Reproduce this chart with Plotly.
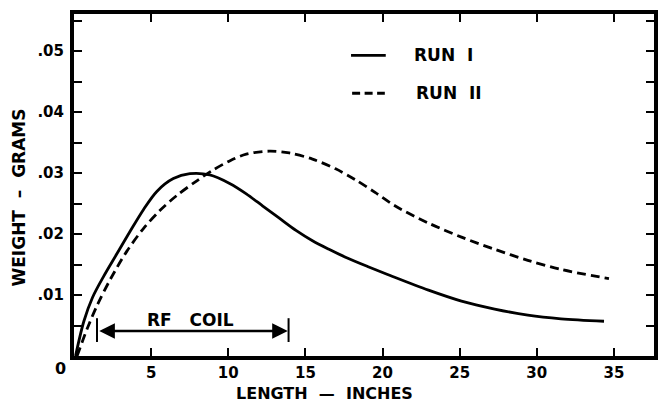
import plotly.graph_objects as go

# Run I (solid)
run1_x = [0.1, 0.64, 1.2, 1.93, 2.79, 3.65, 4.5, 5.37, 6.44, 7.51, 8.8, 10.09, 11.17, 12.24, 13.31,
          14.39, 15.46, 16.53, 17.6, 19.11, 20.5, 22.98, 25.12, 27.27, 29.42, 31.57, 34.36]
run1_y = [0.0, 0.0057, 0.0096, 0.0131, 0.0168, 0.0205, 0.0240, 0.0270, 0.0291, 0.0299, 0.0297, 0.0283,
          0.0266, 0.0246, 0.0226, 0.0206, 0.0189, 0.0175, 0.0162, 0.0146, 0.0132, 0.0108, 0.0090,
          0.0077, 0.0067, 0.0061, 0.0057]

# Run II (dashed)
run2_x = [0.2, 0.86, 1.5, 2.36, 3.43, 4.5, 5.58, 6.65, 7.94, 9.01, 10.09, 11.17, 12.67, 13.96, 15.46,
          16.96, 18.25, 19.54, 20.83, 22.98, 25.12, 27.27, 29.42, 31.57, 34.68]
run2_y = [0.0, 0.0045, 0.0083, 0.0126, 0.0172, 0.0209, 0.0239, 0.0263, 0.0287, 0.0305, 0.0320, 0.0331,
          0.0336, 0.0333, 0.0323, 0.0307, 0.0289, 0.0268, 0.0246, 0.0218, 0.0195, 0.0175, 0.0157,
          0.0142, 0.0127]

x_tick_vals = [5, 10, 15, 20, 25, 30, 35]
x_tick_text = ["5", "10", "15", "20", "25", "30", "35"]
y_tick_vals = [0.005, 0.01, 0.015, 0.02, 0.025, 0.03, 0.035, 0.04, 0.045, 0.05, 0.055]
y_tick_text = ["", ".01", "", ".02", "", ".03", "", ".04", "", ".05", ""]

coil_start = 1.49
coil_end = 13.91
coil_level = 0.0041

FONT = "DejaVu Sans"
INK = "#000000"
CURVE_W = 2.8

fig = go.Figure()
fig.add_trace(go.Scatter(x=run1_x, y=run1_y, mode="lines", name="RUN I",
                         line=dict(color=INK, width=CURVE_W, shape="spline", smoothing=0.9)))
fig.add_trace(go.Scatter(x=run2_x, y=run2_y, mode="lines", name="RUN II",
                         line=dict(color=INK, width=CURVE_W, shape="spline", smoothing=0.9, dash="9px,5px")))

shapes = []
# hand-drawn legend samples
shapes.append(dict(type="line", xref="x", yref="y", x0=17.96, x1=20.21, y0=0.0493, y1=0.0493,
                   line=dict(color=INK, width=CURVE_W)))
shapes.append(dict(type="line", xref="x", yref="y", x0=18.03, x1=20.15, y0=0.0431, y1=0.0431,
                   line=dict(color=INK, width=CURVE_W, dash="8px,4.5px")))
# RF coil end bars
for xv in (coil_start, coil_end):
    shapes.append(dict(type="line", xref="x", yref="y", x0=xv, x1=xv, y0=0.0023, y1=0.0062,
                       line=dict(color=INK, width=2)))

annotations = [
    dict(x=coil_end - 0.05, y=coil_level, ax=coil_start + 0.05, ay=coil_level, xref="x", yref="y",
         axref="x", ayref="y", showarrow=True, arrowhead=2, startarrowhead=2, arrowside="end+start",
         arrowsize=1.3, startarrowsize=1.3, arrowwidth=2.4, arrowcolor=INK, text=""),
    dict(x=7.55, y=0.0059, xref="x", yref="y", text="<b>RF   COIL</b>", showarrow=False,
         font=dict(family=FONT, size=17, color=INK)),
    dict(x=21.94, y=0.0493, xref="x", yref="y", text="<b>RUN  I</b>", showarrow=False, xanchor="left",
         font=dict(family=FONT, size=17, color=INK)),
    dict(x=22.07, y=0.0431, xref="x", yref="y", text="<b>RUN  II</b>", showarrow=False, xanchor="left",
         font=dict(family=FONT, size=17, color=INK)),
    dict(x=0, y=0, xref="x", yref="y", text="<b>0</b>", showarrow=False, xshift=-13.5, yshift=-12,
         font=dict(family=FONT, size=16, color=INK)),
    dict(x=0.5, y=0, xref="paper", yref="paper", yanchor="middle", xshift=-40, yshift=-37,
         text="<b>LENGTH  —  INCHES</b>", showarrow=False,
         font=dict(family=FONT, size=16, color=INK)),
    dict(x=0, y=0, xref="paper", yref="paper", xanchor="center", yanchor="middle",
         xshift=-55.5, yshift=158,
         text="<b>WEIGHT  –  GRAMS</b>", showarrow=False, textangle=-90,
         font=dict(family=FONT, size=17, color=INK)),
]

fig.update_layout(
    width=658, height=409,
    margin=dict(l=73.5, r=0, t=14, b=53),
    paper_bgcolor="white", plot_bgcolor="white",
    showlegend=False,
    font=dict(family=FONT, color=INK, size=15),
    shapes=shapes, annotations=annotations,
    xaxis=dict(range=[0, 37.6], showgrid=False, zeroline=False,
               showline=True, linecolor=INK, linewidth=4, mirror="ticks",
               ticks="inside", ticklen=8, tickwidth=2, tickcolor=INK,
               tickvals=x_tick_vals, ticktext=[f"<b>{t}</b>" for t in x_tick_text],
               tickfont=dict(family=FONT, size=15, color=INK), ticklabelstandoff=0),
    yaxis=dict(range=[0, 0.0561], showgrid=False, zeroline=False,
               showline=True, linecolor=INK, linewidth=4, mirror="ticks",
               ticks="inside", ticklen=8, tickwidth=2, tickcolor=INK,
               tickvals=y_tick_vals, ticktext=[f"<b>{t}</b>" if t else "" for t in y_tick_text],
               tickfont=dict(family=FONT, size=15, color=INK), ticklabelstandoff=3),
)

fig.write_html("out.html")
